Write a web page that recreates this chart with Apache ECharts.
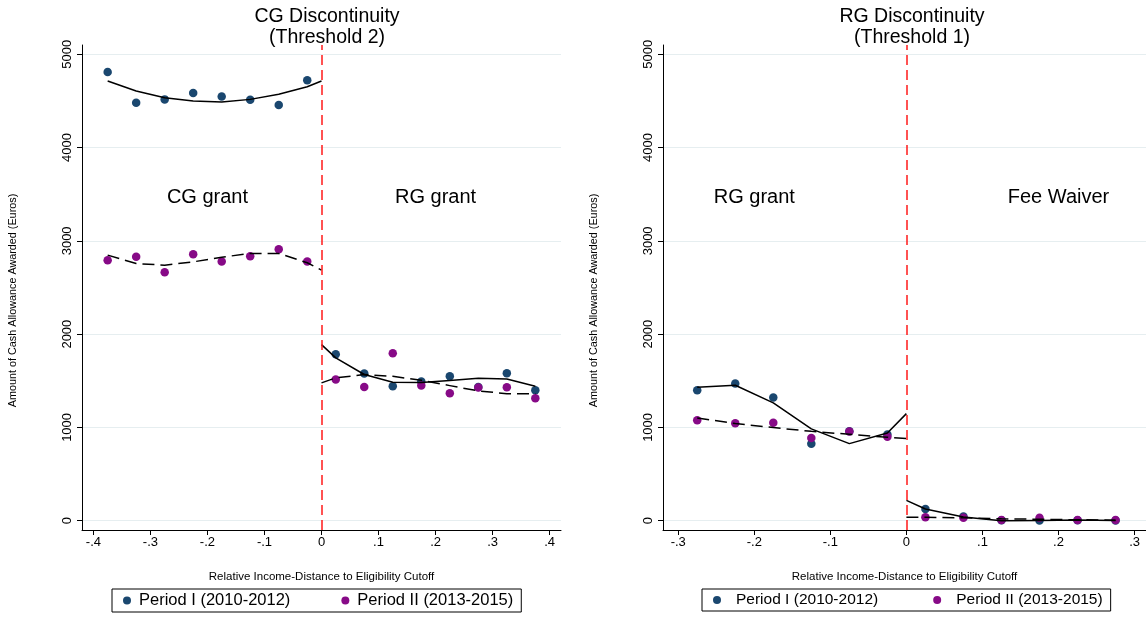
<!DOCTYPE html>
<html>
  <head>
    <meta charset="utf-8" />
    <title>CG / RG Discontinuity</title>
    <script src="https://cdn.jsdelivr.net/npm/echarts@6.0.0/dist/echarts.min.js"></script>
  </head>
  <body style="margin:0;background:#fff;">
    <div id="chart" style="width: 1146px;height:617px;"></div>
    <script type="text/javascript">

      // bins (relative income distance)
      var cgBinsNeg = [-0.375, -0.325, -0.275, -0.225, -0.175, -0.125, -0.075, -0.025];
      var cgBinsPos = [0.025, 0.075, 0.125, 0.175, 0.225, 0.275, 0.325, 0.375];
      var rgBinsNeg = [-0.275, -0.225, -0.175, -0.125, -0.075, -0.025];
      var rgBinsPos = [0.025, 0.075, 0.125, 0.175, 0.225, 0.275];

      // CG threshold - binned means
      var cgP1Neg = [4810, 4481, 4517, 4585, 4549, 4513, 4456, 4721];
      var cgP2Neg = [2793, 2829, 2664, 2857, 2779, 2836, 2911, 2779];
      var cgP1Pos = [1785, 1577, 1441, 1491, 1548, 1434, 1581, 1398];
      var cgP2Pos = [1513, 1434, 1795, 1448, 1366, 1427, 1431, 1312];
      // CG threshold - fitted lines (bins + cutoff)
      var cgFit1Neg = [4714, 4606, 4535, 4499, 4488, 4517, 4571, 4653, 4714];
      var cgFit2Neg = [2847, 2757, 2739, 2775, 2825, 2865, 2865, 2765, 2686];
      var cgFit1Pos = [1888, 1745, 1567, 1484, 1481, 1502, 1527, 1520, 1441];
      var cgFit2Pos = [1477, 1531, 1567, 1548, 1505, 1448, 1391, 1362, 1362];

      // RG threshold - binned means
      var rgP1Neg = [1398, 1470, 1320, 826, 958, 923];
      var rgP2Neg = [1076, 1044, 1051, 887, 955, 901];
      var rgP1Pos = [125, 46, 5, 3, 5, 3];
      var rgP2Pos = [36, 32, 7, 32, 7, 7];
      // RG threshold - fitted lines
      var rgFit1Neg = [1431, 1452, 1263, 984, 826, 941, 1148];
      var rgFit2Neg = [1102, 1041, 998, 958, 926, 894, 880];
      var rgFit1Pos = [218, 125, 40, 0, 3, 7, 3];
      var rgFit2Pos = [36, 36, 30, 20, 15, 10, 5];

      var cgTicks = [-0.4, -0.3, -0.2, -0.1, 0, 0.1, 0.2, 0.3, 0.4];
      var rgTicks = [-0.3, -0.2, -0.1, 0, 0.1, 0.2, 0.3];
      var yTicks = [0, 1000, 2000, 3000, 4000, 5000];

      var seriesNames = ['Period I (2010-2012)', 'Period II (2013-2015)'];
      var titles = ['CG Discontinuity\n(Threshold 2)', 'RG Discontinuity\n(Threshold 1)'];
      var regionLabels = [['CG grant', 'RG grant'], ['RG grant', 'Fee Waiver']];

      var FONT = 'Liberation Sans, Arial, Helvetica, sans-serif';
      var BLUE = '#1a476f';
      var PURPLE = '#870a87';

      function pairs(xs, ys) {
        return xs.map(function (x, i) { return [x, ys[i]]; });
      }
      function fmtX(v) {
        if (Math.abs(v) < 1e-9) return '0';
        var s = Math.abs(v).toFixed(1).replace(/^0/, '');
        return (v < 0 ? '-' : '') + s;
      }

      function xAxisFor(idx, min, max, ticks) {
        return {
          type: 'value', gridIndex: idx, min: min, max: max,
          name: 'Relative Income-Distance to Eligibility Cutoff',
          nameLocation: 'middle', nameGap: 41,
          nameTextStyle: { fontFamily: FONT, fontSize: 11.5, color: '#000' },
          axisLine: { onZero: false, lineStyle: { color: '#000', width: 1 } },
          axisTick: { customValues: ticks, length: 5, lineStyle: { color: '#000' } },
          axisLabel: { customValues: ticks, formatter: fmtX, fontFamily: FONT, fontSize: 13, color: '#000', margin: 6 },
          splitLine: { show: false }
        };
      }
      function yAxisFor(idx) {
        return {
          type: 'value', gridIndex: idx, min: -100, max: 5100,
          name: 'Amount of Cash Allowance Awarded (Euros)',
          nameLocation: 'middle', nameGap: 63,
          nameTextStyle: { fontFamily: FONT, fontSize: 10.8, color: '#000', padding: [0, 26, 0, 0] },
          axisLine: { onZero: false, lineStyle: { color: '#000', width: 1 } },
          axisTick: { customValues: yTicks, length: 5, lineStyle: { color: '#000' } },
          axisLabel: {
            customValues: yTicks, rotate: 90, fontFamily: FONT, fontSize: 13, color: '#000', margin: 8,
            formatter: function (v) { return String(v); }
          },
          splitLine: { show: true, lineStyle: { color: '#e6eef0', width: 1 } }
        };
      }

      function scatter(idx, name, xs, ys, color) {
        return {
          type: 'scatter', name: name, xAxisIndex: idx, yAxisIndex: idx,
          data: pairs(xs, ys), symbol: 'circle', symbolSize: 8.5,
          itemStyle: { color: color, opacity: 1 }, z: 3
        };
      }
      function fit(idx, xs, ys, dashed) {
        return {
          type: 'line', xAxisIndex: idx, yAxisIndex: idx,
          data: pairs(xs, ys), showSymbol: false, symbol: 'none',
          lineStyle: { color: '#000', width: 1.5, type: dashed ? [12, 6] : 'solid' }, z: 4
        };
      }
      function cutoff(idx) {
        return {
          type: 'line', xAxisIndex: idx, yAxisIndex: idx, data: [],
          markLine: {
            silent: true, symbol: ['none', 'none'], label: { show: false },
            lineStyle: { color: '#ff1a1a', width: 1.5, type: [10, 5] },
            data: [{ xAxis: 0 }]
          }, z: 2
        };
      }
      function regionText(idx, x, text) {
        return {
          type: 'scatter', xAxisIndex: idx, yAxisIndex: idx, silent: true,
          data: [[x, 3470]], symbolSize: 0, itemStyle: { color: 'transparent', opacity: 1 },
          label: { show: true, position: 'inside', formatter: text, fontFamily: FONT, fontSize: 20, color: '#000', opacity: 1 }
        };
      }

      var cgFitXNeg = cgBinsNeg.concat([0]);
      var cgFitXPos = [0].concat(cgBinsPos);
      var rgFitXNeg = rgBinsNeg.concat([0]);
      var rgFitXPos = [0].concat(rgBinsPos);

      var chart = echarts.init(document.getElementById('chart'));
      function legendFor(left, size, gap, textPad) {
        return {
          data: [{ name: seriesNames[0], icon: 'circle' }, { name: seriesNames[1], icon: 'circle' }],
          orient: 'horizontal', left: left, top: 589, itemWidth: 8, itemHeight: 8, itemGap: gap,
          borderColor: '#000', borderWidth: 1, padding: [3, 8, 3, 11],
          textStyle: { fontFamily: FONT, fontSize: size, color: '#000', padding: [0, 0, 0, textPad] }
        };
      }

      chart.setOption({
        animation: false,
        backgroundColor: '#fff',
        title: [
          { text: titles[0], left: 322, top: 1, textAlign: 'center',
            textStyle: { fontFamily: FONT, fontSize: 19.5, fontWeight: 'normal', color: '#000', lineHeight: 21 } },
          { text: titles[1], left: 907, top: 1, textAlign: 'center',
            textStyle: { fontFamily: FONT, fontSize: 19.5, fontWeight: 'normal', color: '#000', lineHeight: 21 } }
        ],
        legend: [legendFor(112, 16.5, 51, 3), legendFor(702, 15.5, 55, 10)],
        grid: [
          { left: 82, top: 45, width: 479, height: 485 },
          { left: 663, top: 45, width: 483, height: 485 }
        ],
        xAxis: [xAxisFor(0, -0.42, 0.42, cgTicks), xAxisFor(1, -0.32, 0.315, rgTicks)],
        yAxis: [yAxisFor(0), yAxisFor(1)],
        series: [
          cutoff(0), cutoff(1),
          scatter(0, seriesNames[0], cgBinsNeg, cgP1Neg, BLUE),
          scatter(0, seriesNames[1], cgBinsNeg, cgP2Neg, PURPLE),
          scatter(0, seriesNames[0], cgBinsPos, cgP1Pos, BLUE),
          scatter(0, seriesNames[1], cgBinsPos, cgP2Pos, PURPLE),
          fit(0, cgFitXNeg, cgFit1Neg, false),
          fit(0, cgFitXNeg, cgFit2Neg, true),
          fit(0, cgFitXPos, cgFit1Pos, false),
          fit(0, cgFitXPos, cgFit2Pos, true),
          scatter(1, seriesNames[0], rgBinsNeg, rgP1Neg, BLUE),
          scatter(1, seriesNames[1], rgBinsNeg, rgP2Neg, PURPLE),
          scatter(1, seriesNames[0], rgBinsPos, rgP1Pos, BLUE),
          scatter(1, seriesNames[1], rgBinsPos, rgP2Pos, PURPLE),
          fit(1, rgFitXNeg, rgFit1Neg, false),
          fit(1, rgFitXNeg, rgFit2Neg, true),
          fit(1, rgFitXPos, rgFit1Pos, false),
          fit(1, rgFitXPos, rgFit2Pos, true),
          regionText(0, -0.2, regionLabels[0][0]),
          regionText(0, 0.2, regionLabels[0][1]),
          regionText(1, -0.2, regionLabels[1][0]),
          regionText(1, 0.2, regionLabels[1][1])
        ]
      });
    </script>
  </body>
</html>
